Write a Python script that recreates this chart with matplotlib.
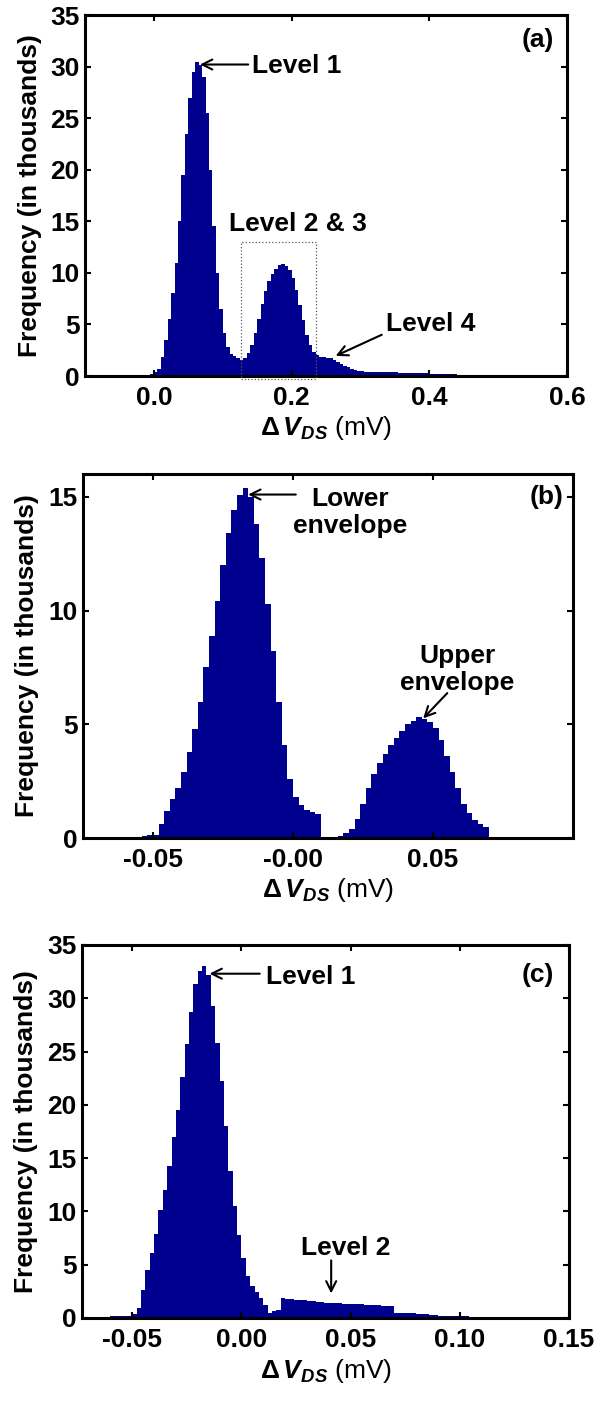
import numpy as np
import matplotlib
matplotlib.use("Agg")
import matplotlib.pyplot as plt
from matplotlib.patches import Rectangle

plt.rcParams['font.family'] = ['Liberation Sans', 'DejaVu Sans']
plt.rcParams['font.weight'] = 'bold'
plt.rcParams['mathtext.fontset'] = 'custom'
plt.rcParams['mathtext.rm'] = 'Liberation Sans'
plt.rcParams['mathtext.it'] = 'Liberation Sans:italic'
plt.rcParams['mathtext.bf'] = 'Liberation Sans:bold'
plt.rcParams['mathtext.bfit'] = 'Liberation Sans:italic:bold'

# ---- histogram (a): bin start / width (mV) and counts (thousands) ----
a_start, a_width = -0.030, 0.005
a_counts = [
    0.05, 0.05, 0.05, 0.06, 0.10, 0.20, 0.35, 0.70, 1.8, 3.5,
    5.5, 8.0, 11.0, 15.0, 19.5, 23.5, 27.0, 29.5, 30.4, 30.2,
    29.0, 25.5, 20.0, 14.5, 10.0, 6.5, 4.2, 2.8, 2.1, 1.9,
    1.75, 1.6, 1.7, 2.2, 3.0, 4.2, 5.5, 7.0, 8.2, 9.2,
    9.9, 10.4, 10.8, 10.9, 10.7, 10.3, 9.5, 8.3, 6.9, 5.4,
    4.0, 3.0, 2.3, 2.0, 1.85, 1.8, 1.75, 1.7, 1.6, 1.4,
    1.2, 1.0, 0.85, 0.7, 0.6, 0.5, 0.45, 0.4,
    0.38, 0.37, 0.36, 0.36, 0.35, 0.35, 0.34, 0.34, 0.34, 0.33,
    0.33, 0.33, 0.32, 0.32, 0.32, 0.31, 0.31, 0.30,
    0.18, 0.17, 0.17, 0.16, 0.16, 0.15, 0.15, 0.15, 0.14, 0.14,
    0.14, 0.13, 0.13, 0.12, 0.12, 0.11, 0.11, 0.10,
]

# ---- histogram (b) ----
b_start, b_width = -0.060, 0.002
b_counts = [
    0.05, 0.05, 0.05, 0.07, 0.12, 0.15, 0.6, 1.2, 1.7, 2.2,
    2.9, 3.8, 4.8, 6.0, 7.5, 8.9, 10.4, 12.0, 13.4, 14.4,
    15.1, 15.4, 15.0, 13.8, 12.3, 10.3, 8.2, 6.0, 4.1, 2.6,
    1.8, 1.45, 1.25, 1.15, 1.05, 0.05, 0.05, 0.05, 0.08, 0.2,
    0.4, 0.85, 1.5, 2.2, 2.8, 3.3, 3.7, 4.1, 4.4, 4.7,
    5.0, 5.15, 5.3, 5.25, 5.1, 4.85, 4.3, 3.6, 2.9, 2.2,
    1.5, 1.1, 0.8, 0.6, 0.5,
]

# ---- histogram (c) ----
c_start, c_width = -0.060, 0.002
c_counts = [
    0.15, 0.15, 0.15, 0.17, 0.20, 0.35, 0.9, 2.6, 4.5, 6.1,
    7.9, 10.1, 12.0, 14.3, 17.0, 19.5, 22.6, 25.7, 28.7, 31.3,
    32.6, 33.0, 32.2, 29.3, 25.8, 22.2, 18.0, 13.8, 10.5, 7.8,
    5.6, 3.9, 3.0, 2.4, 1.9, 1.2, 0.5, 0.65, 0.75, 1.85,
    1.8, 1.75, 1.72, 1.68, 1.65, 1.6, 1.55, 1.52, 1.48, 1.45,
    1.42, 1.4, 1.37, 1.35, 1.33, 1.32, 1.3, 1.28, 1.26, 1.24,
    1.22, 1.2, 1.17, 1.13, 1.1, 0.45, 0.45, 0.45, 0.45, 0.44,
    0.42, 0.38, 0.33, 0.28, 0.24, 0.21, 0.19, 0.17, 0.16, 0.15,
    0.14, 0.14, 0.13, 0.13, 0.13, 0.12, 0.12, 0.12, 0.12, 0.12,
    0.11, 0.11, 0.11, 0.11, 0.11, 0.11, 0.10, 0.10, 0.10, 0.10,
    0.10, 0.10, 0.10,
]

a_xticks = [0.0, 0.2, 0.4, 0.6]
a_xlabels = ['0.0', '0.2', '0.4', '0.6']
b_xticks = [-0.05, 0.0, 0.05]
b_xlabels = ['-0.05', '-0.00', '0.05']
c_xticks = [-0.05, 0.0, 0.05, 0.10, 0.15]
c_xlabels = ['-0.05', '0.00', '0.05', '0.10', '0.15']

BAR = '#00008F'
FS = 19
XLABEL = r'$\Delta\,\mathbfit{V}_{\mathbfit{DS}}$ (mV)'
YLABEL = 'Frequency (in thousands)'

fig = plt.figure(figsize=(5.95, 14.03), dpi=100)


def panel(rect, start, width, counts, xlim, ylim, xticks, xlabels, yticks):
    ax = fig.add_axes(rect)
    counts = np.asarray(counts, dtype=float)
    edges = start + width * np.arange(len(counts) + 1)
    heights = np.append(counts, counts[-1])
    ax.fill_between(edges, 0, heights, step='post', color=BAR,
                    linewidth=0, antialiased=False)
    ax.set_xlim(*xlim)
    ax.set_ylim(*ylim)
    ax.set_xticks(xticks)
    ax.set_xticklabels(xlabels)
    ax.set_yticks(yticks)
    ax.tick_params(direction='in', top=True, right=True, length=4, width=1.5,
                   labelsize=FS, pad=4)
    ax.tick_params(axis='x', pad=7)
    for s in ax.spines.values():
        s.set_linewidth(2.2)
    ax.set_xlabel(XLABEL, fontsize=FS, fontweight='normal')
    ax.set_ylabel(YLABEL, fontsize=FS, fontweight='bold')
    ax.xaxis.set_label_coords(0.5, -0.105)
    ax.yaxis.set_label_coords(-0.09, 0.5)
    return ax


arrow = dict(arrowstyle='->', color='black', lw=1.5,
             mutation_scale=18, shrinkA=0, shrinkB=0)

# (a)
ax = panel([0.1429, 0.732, 0.810, 0.2573], a_start, a_width, a_counts,
           (-0.1, 0.6), (0, 35), a_xticks, a_xlabels, range(0, 36, 5))
ax.annotate('', xy=(0.067, 30.2), xytext=(0.137, 30.2), arrowprops=arrow)
ax.text(0.142, 30.1, 'Level 1', fontsize=FS, ha='left', va='center')
ax.add_patch(Rectangle((0.126, -0.3), 0.110, 13.3, fill=False,
                       edgecolor='0.35', lw=0.9, ls=':', clip_on=False, zorder=3))
ax.text(0.209, 14.7, 'Level 2 & 3', fontsize=FS, ha='center', va='center')
ax.annotate('', xy=(0.264, 1.95), xytext=(0.331, 4.0), arrowprops=arrow)
ax.text(0.337, 5.0, 'Level 4', fontsize=FS, ha='left', va='center')
ax.text(0.558, 32.6, '(a)', fontsize=FS, ha='center', va='center')

# (b)
ax = panel([0.1395, 0.4027, 0.8235, 0.2594], b_start, b_width, b_counts,
           (-0.075, 0.1), (0, 16), b_xticks, b_xlabels, range(0, 16, 5))
ax.annotate('', xy=(-0.016, 15.1), xytext=(0.001, 15.1), arrowprops=arrow)
ax.text(0.0205, 14.3, 'Lower\nenvelope', fontsize=FS, ha='center', va='center',
        linespacing=1.15)
ax.annotate('', xy=(0.0465, 5.26), xytext=(0.0551, 6.37), arrowprops=arrow)
ax.text(0.0586, 7.4, 'Upper\nenvelope', fontsize=FS, ha='center', va='center',
        linespacing=1.15)
ax.text(0.0906, 15.0, '(b)', fontsize=FS, ha='center', va='center')

# (c)
ax = panel([0.1378, 0.0606, 0.8185, 0.2659], c_start, c_width, c_counts,
           (-0.073, 0.15), (0, 35), c_xticks, c_xlabels, range(0, 36, 5))
ax.annotate('', xy=(-0.0146, 32.3), xytext=(0.0084, 32.3), arrowprops=arrow)
ax.text(0.0113, 32.0, 'Level 1', fontsize=FS, ha='left', va='center')
ax.annotate('', xy=(0.0411, 2.3), xytext=(0.0411, 5.4), arrowprops=arrow)
ax.text(0.0476, 6.6, 'Level 2', fontsize=FS, ha='center', va='center')
ax.text(0.1355, 32.2, '(c)', fontsize=FS, ha='center', va='center')

fig.savefig('out.png', dpi=100)
